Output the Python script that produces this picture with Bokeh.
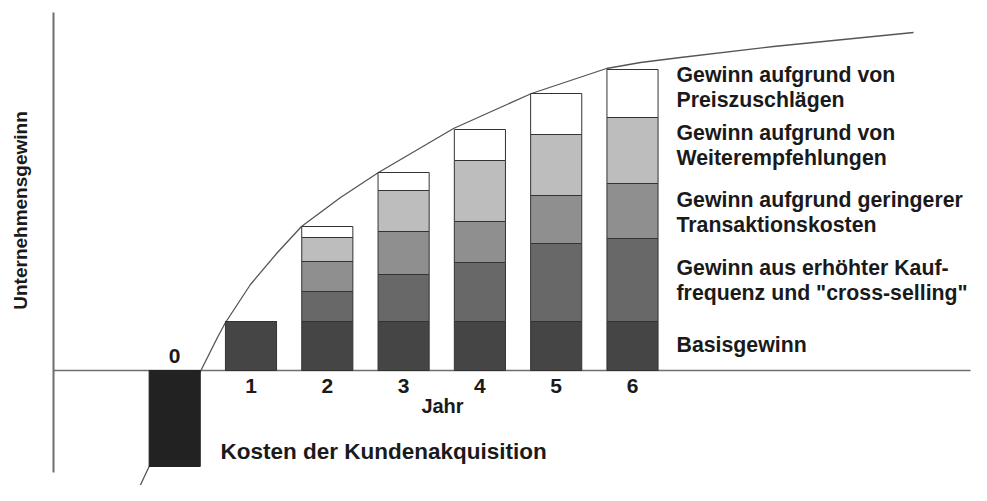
from math import pi
from bokeh.plotting import figure
from bokeh.models import Range1d, ColumnDataSource
from bokeh.core.properties import value
from bokeh.embed import file_html
from bokeh.resources import INLINE

# ---------------- data (arbitrary profit units) ----------------
years = [1, 2, 3, 4, 5, 6]
tick_labels = ["1", "2", "3", "4", "5", "6"]
basisgewinn = [4.9, 4.9, 4.9, 4.9, 4.9, 4.9]
kauffrequenz = [0.0, 3.0, 4.7, 5.9, 7.8, 8.3]
transaktionskosten = [0.0, 3.0, 4.3, 4.1, 4.8, 5.5]
weiterempfehlungen = [0.0, 2.4, 4.1, 6.1, 6.1, 6.6]
preiszuschlaege = [0.0, 1.1, 1.8, 3.1, 4.1, 4.8]

akquisition_jahr = [0]
akquisition_kosten = [-9.6]

curve_x = [-0.545, -0.335, 0.350, 0.429, 0.560, 0.666, 0.993, 1.347, 1.662,
           2.173, 2.671, 3.654, 4.676, 5.659, 6.105, 6.629, 7.848, 9.683]
curve_y = [-13.0, -9.6, 0.1, 1.3, 3.3, 4.8, 8.6, 11.8, 14.4,
           17.3, 19.8, 24.2, 27.7, 30.2, 30.8, 31.3, 32.4, 33.8]

legend_lines = [
    "Gewinn aufgrund von", "Preiszuschlägen",
    "Gewinn aufgrund von", "Weiterempfehlungen",
    "Gewinn aufgrund geringerer", "Transaktionskosten",
    "Gewinn aus erhöhter Kauf-", "frequenz und \"cross-selling\"",
    "Basisgewinn",
]

# ---------------- layout helpers (picture pixel -> data) ----------------
PX_PER_YEAR = 76.3
X_REF_PX = 250.5   # picture x of year 1
ZERO_PX = 370.0    # picture y of zero line
PX_PER_UNIT = 10.0


def px_x(px):
    return 1 + (px - X_REF_PX) / PX_PER_YEAR


def px_y(py):
    return (ZERO_PX - py) / PX_PER_UNIT


W, H = 971, 485
FONT = value("Liberation Sans")
TXT = "#1a1a1a"

p = figure(width=W, height=H, output_backend="svg", toolbar_location=None,
           x_range=Range1d(px_x(0), px_x(W)),
           y_range=Range1d(px_y(H), px_y(0)),
           min_border=0)
p.axis.visible = False
p.grid.visible = False
p.outline_line_color = None
p.background_fill_color = "white"

# axes lines
p.segment(x0=[px_x(53)], y0=[px_y(12)], x1=[px_x(53)], y1=[px_y(472)],
          line_color="#6e6e6e", line_width=2)
p.segment(x0=[px_x(53)], y0=[0], x1=[px_x(970)], y1=[0],
          line_color="#6e6e6e", line_width=1.5)

# cumulative profit curve
p.line(curve_x, curve_y, line_color="#555555", line_width=1.3)

BAR_W = 0.67
OUTLINE = "#333333"

# acquisition cost bar (negative)
p.vbar(x=akquisition_jahr, top=akquisition_kosten, bottom=0, width=BAR_W,
       fill_color="#222222", line_color="#222222", line_width=1)

# stacked profit bars
src = ColumnDataSource(dict(
    years=years,
    basis=basisgewinn,
    kauf=kauffrequenz,
    trans=transaktionskosten,
    weiter=weiterempfehlungen,
    preis=preiszuschlaege,
))
p.vbar_stack(["basis", "kauf", "trans", "weiter", "preis"], x="years",
             width=BAR_W, source=src,
             fill_color=["#454545", "#686868", "#8f8f8f", "#bdbdbd", "#ffffff"],
             line_color=OUTLINE, line_width=1)

# tick labels (y = cap centre in picture pixels)
p.text(x=years, y=[px_y(385.5)] * len(years), text=tick_labels,
       text_font=FONT, text_font_style="bold", text_font_size="21px",
       text_align="center", text_baseline="alphabetic", text_color=TXT)
p.text(x=akquisition_jahr, y=[px_y(355.5)], text=["0"],
       text_font=FONT, text_font_style="bold", text_font_size="21px",
       text_align="center", text_baseline="alphabetic", text_color=TXT)

# axis titles
p.text(x=[px_x(442)], y=[px_y(405.5)], text=["Jahr"],
       text_font=FONT, text_font_style="bold", text_font_size="20px",
       text_align="center", text_baseline="alphabetic", text_color=TXT)
p.text(x=[px_x(20)], y=[px_y(210)], text=["Unternehmensgewinn"], angle=pi / 2,
       text_font=FONT, text_font_style="bold", text_font_size="19px",
       text_align="center", text_baseline="middle", text_color=TXT)

p.text(x=[px_x(220)], y=[px_y(451)], text=["Kosten der Kundenakquisition"],
       text_font=FONT, text_font_style="bold", text_font_size="22.5px",
       text_align="left", text_baseline="alphabetic", text_color=TXT)

# legend-like labels beside the last bar
legend_centres_px = [74.5, 99.5, 132.5, 157.5, 199.5, 224.5, 267.5, 292.5, 344.5]
p.text(x=[px_x(676)] * len(legend_lines),
       y=[px_y(c) for c in legend_centres_px], text=legend_lines,
       text_font=FONT, text_font_style="bold", text_font_size="21.3px",
       text_align="left", text_baseline="alphabetic", text_color=TXT)

open("out.html", "w").write(file_html(p, INLINE))
